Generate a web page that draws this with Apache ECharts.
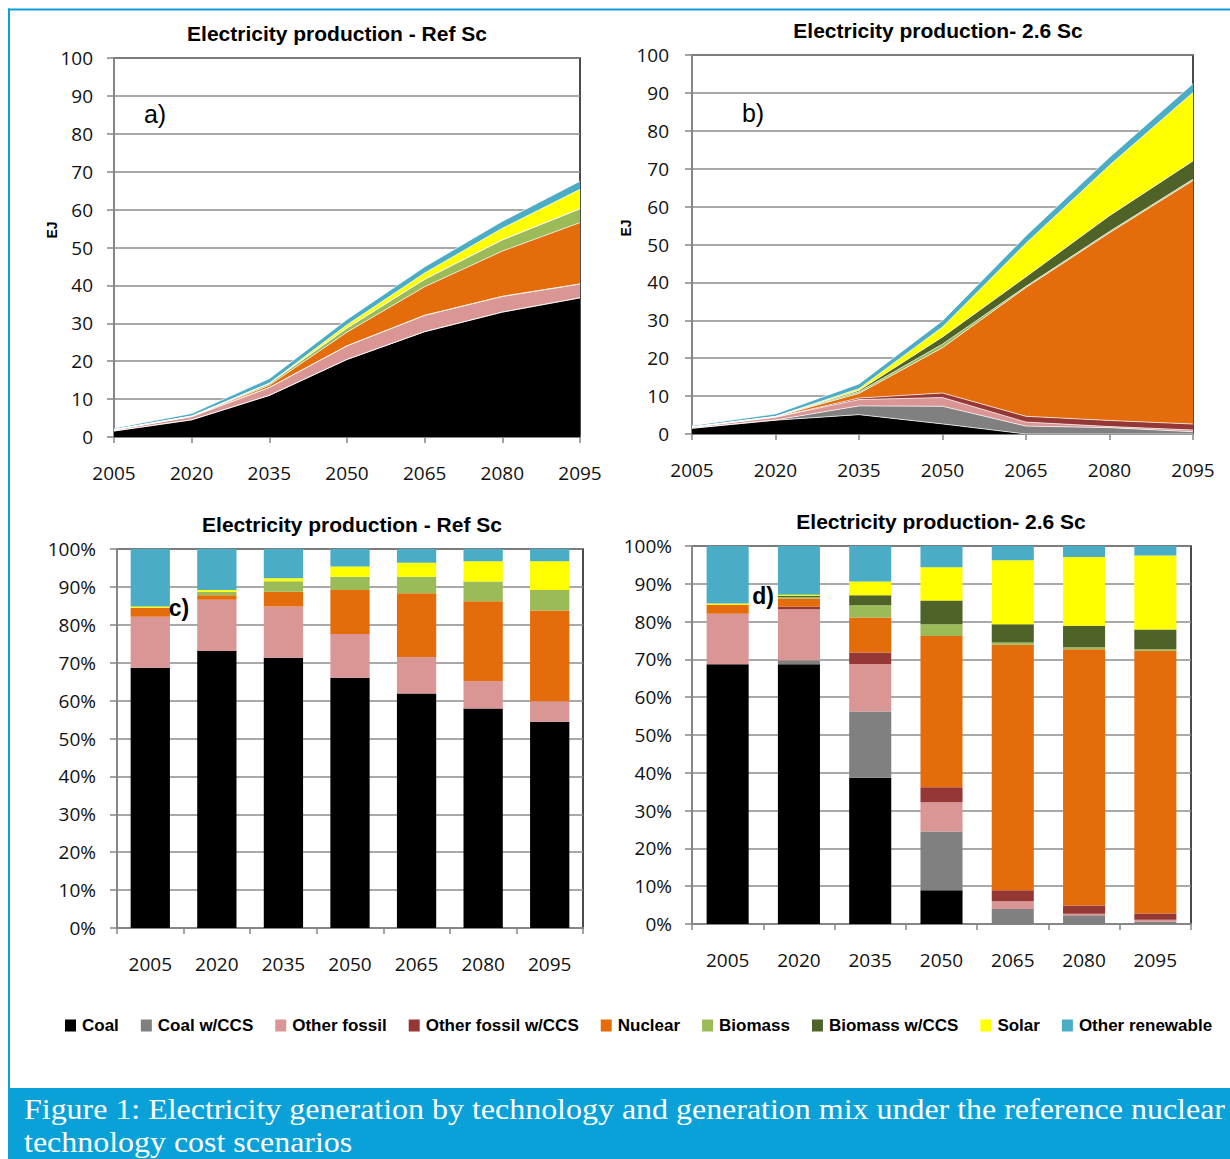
<!DOCTYPE html>
<html>
<head>
<meta charset="utf-8">
<script src="https://cdn.jsdelivr.net/npm/echarts@6/dist/echarts.min.js"></script>
<style>
  html, body { margin: 0; padding: 0; background: #fff; }
  #chart { width: 1230px; height: 1159px; }
</style>
</head>
<body>
<div id="chart"></div>
<script>
// ---- categories ----
const years = ['2005', '2020', '2035', '2050', '2065', '2080', '2095'];
const techs = ['Coal', 'Coal w/CCS', 'Other fossil', 'Other fossil w/CCS', 'Nuclear',
               'Biomass', 'Biomass w/CCS', 'Solar', 'Other renewable'];
const techColors = ['#000000', '#808080', '#D99694', '#953735', '#E46C0A',
                    '#9BBB59', '#4F6228', '#FFFF00', '#4BACC6'];

// ---- a) Reference scenario, electricity production (EJ) ----
const refCoalEJ          = [1.58, 4.53, 10.98, 20.46, 27.79, 32.95, 36.72];
const refCoalCcsEJ       = [0, 0, 0, 0, 0, 0, 0];
const refOtherFossilEJ   = [0.31, 0.84, 2.08, 3.60, 4.31, 4.15, 3.65];
const refOtherFossilCcsEJ= [0, 0, 0, 0, 0, 0, 0];
const refNuclearEJ       = [0.05, 0.07, 0.60, 3.60, 7.54, 11.95, 16.20];
const refBiomassEJ       = [0, 0.06, 0.43, 1.09, 1.98, 2.96, 3.65];
const refBiomassCcsEJ    = [0, 0, 0, 0, 0, 0, 0];
const refSolarEJ         = [0.01, 0.03, 0.12, 0.84, 1.66, 3.07, 5.13];
const refOtherRenewEJ    = [0.35, 0.67, 1.19, 1.43, 1.62, 1.82, 2.16];

// ---- b) 2.6 scenario, electricity production (EJ) ----
const s26CoalEJ          = [1.51, 3.64, 5.11, 2.66, 0, 0, 0];
const s26CoalCcsEJ       = [0, 0.06, 2.31, 4.66, 2.09, 1.68, 0.60];
const s26OtherFossilEJ   = [0.29, 0.72, 1.66, 2.30, 1.05, 0.29, 0.46];
const s26OtherFossilCcsEJ= [0, 0.03, 0.40, 1.20, 1.52, 1.61, 1.57];
const s26NuclearEJ       = [0.05, 0.12, 1.23, 11.96, 34.00, 49.49, 64.24];
const s26BiomassEJ       = [0, 0.02, 0.42, 0.93, 0.31, 0.37, 0.37];
const s26BiomassCcsEJ    = [0, 0.02, 0.36, 1.88, 2.51, 4.16, 4.80];
const s26SolarEJ         = [0.01, 0.02, 0.48, 2.63, 8.84, 13.29, 18.09];
const s26OtherRenewEJ    = [0.33, 0.68, 1.24, 1.67, 1.99, 2.12, 2.31];

// ---- c) Reference scenario, generation mix (%) ----
const refCoalPct          = [68.7, 73.1, 71.3, 66.0, 61.9, 57.9, 54.4];
const refCoalCcsPct       = [0, 0, 0, 0, 0, 0, 0];
const refOtherFossilPct   = [13.4, 13.5, 13.5, 11.6, 9.6, 7.3, 5.4];
const refOtherFossilCcsPct= [0, 0, 0, 0, 0, 0, 0];
const refNuclearPct       = [2.3, 1.2, 3.9, 11.6, 16.8, 21.0, 24.0];
const refBiomassPct       = [0, 0.9, 2.8, 3.5, 4.4, 5.2, 5.4];
const refBiomassCcsPct    = [0, 0, 0, 0, 0, 0, 0];
const refSolarPct         = [0.4, 0.5, 0.8, 2.7, 3.7, 5.4, 7.6];
const refOtherRenewPct    = [15.2, 10.8, 7.7, 4.6, 3.6, 3.2, 3.2];

// ---- d) 2.6 scenario, generation mix (%) ----
const s26CoalPct          = [68.7, 68.7, 38.7, 8.9, 0, 0, 0];
const s26CoalCcsPct       = [0, 1.1, 17.5, 15.6, 4.0, 2.3, 0.6];
const s26OtherFossilPct   = [13.4, 13.5, 12.6, 7.7, 2.0, 0.4, 0.5];
const s26OtherFossilCcsPct= [0, 0.6, 3.0, 4.0, 2.9, 2.2, 1.7];
const s26NuclearPct       = [2.3, 2.2, 9.3, 40.0, 65.0, 67.8, 69.5];
const s26BiomassPct       = [0, 0.4, 3.2, 3.1, 0.6, 0.5, 0.4];
const s26BiomassCcsPct    = [0, 0.3, 2.7, 6.3, 4.8, 5.7, 5.2];
const s26SolarPct         = [0.4, 0.3, 3.6, 8.8, 16.9, 18.2, 19.6];
const s26OtherRenewPct    = [15.2, 12.9, 9.4, 5.6, 3.8, 2.9, 2.5];

// ---- tick labels ----
const ejTicks = [0, 10, 20, 30, 40, 50, 60, 70, 80, 90, 100];
const pctTicks = ['0%', '10%', '20%', '30%', '40%', '50%', '60%', '70%', '80%', '90%', '100%'];

const refEJ  = [refCoalEJ, refCoalCcsEJ, refOtherFossilEJ, refOtherFossilCcsEJ, refNuclearEJ,
                refBiomassEJ, refBiomassCcsEJ, refSolarEJ, refOtherRenewEJ];
const s26EJ  = [s26CoalEJ, s26CoalCcsEJ, s26OtherFossilEJ, s26OtherFossilCcsEJ, s26NuclearEJ,
                s26BiomassEJ, s26BiomassCcsEJ, s26SolarEJ, s26OtherRenewEJ];
const refPct = [refCoalPct, refCoalCcsPct, refOtherFossilPct, refOtherFossilCcsPct, refNuclearPct,
                refBiomassPct, refBiomassCcsPct, refSolarPct, refOtherRenewPct];
const s26Pct = [s26CoalPct, s26CoalCcsPct, s26OtherFossilPct, s26OtherFossilCcsPct, s26NuclearPct,
                s26BiomassPct, s26BiomassCcsPct, s26SolarPct, s26OtherRenewPct];

const SANS = '"Liberation Sans", Arial, sans-serif';
const SERIF = '"Liberation Serif", "Times New Roman", serif';
const TICK_FONT = '"Open Sans", "Noto Sans", sans-serif';
const GRID_GRAY = '#8c8c8c';
const AXIS_GRAY = '#868686';

const chart = echarts.init(document.getElementById('chart'), null, { renderer: 'svg' });

// plot rectangles: [left, top, right edge, bottom edge]
const boxes = [
  [114, 58, 580, 437],   // a
  [692, 55, 1193, 434],  // b
  [117, 549, 583, 928],  // c
  [692, 546, 1191, 924]  // d
];

const grids = boxes.map(b => ({
  left: b[0], top: b[1], width: b[2] - b[0], height: b[3] - b[1],
  show: true, borderColor: '#111', borderWidth: 1.5, backgroundColor: 'transparent'
}));

function xAxisFor(gi, isBar) {
  return {
    type: 'category', gridIndex: gi, data: years, boundaryGap: isBar,
    axisLine: { lineStyle: { color: AXIS_GRAY, width: 2 } },
    axisTick: { show: true, length: 6, interval: 0, lineStyle: { color: AXIS_GRAY, width: 1.5 } },
    axisLabel: { margin: 26, fontSize: 19, color: '#111', fontFamily: TICK_FONT, interval: 0 },
    splitLine: { show: false }
  };
}
function yAxisFor(gi, isPct, margin) {
  return {
    type: 'value', gridIndex: gi, min: 0, max: 100, interval: 10,
    axisLine: { show: true, lineStyle: { color: AXIS_GRAY, width: 2 } },
    axisTick: { show: true, length: 7, lineStyle: { color: AXIS_GRAY, width: 1.5 } },
    axisLabel: {
      margin: margin, fontSize: 19, color: '#111', fontFamily: TICK_FONT,
      formatter: v => isPct ? pctTicks[Math.round(v / 10)] : String(ejTicks[Math.round(v / 10)])
    },
    splitLine: { show: true, lineStyle: { color: GRID_GRAY, width: 1.6 } }
  };
}

const series = [];
// stacked bars first so the legend swatches take the bar styling
[[refPct, 2, 'barRef'], [s26Pct, 3, 'bar26']].forEach(([set, gi, stack]) => {
  set.forEach((vals, i) => {
    series.push({
      type: 'bar', name: techs[i], stack: stack, xAxisIndex: gi, yAxisIndex: gi,
      data: vals, barWidth: '59%',
      itemStyle: { color: techColors[i] },
      emphasis: { disabled: true }, silent: true
    });
  });
});
[[refEJ, 0, 'areaRef'], [s26EJ, 1, 'area26']].forEach(([set, gi, stack]) => {
  set.forEach((vals, i) => {
    series.push({
      type: 'line', name: techs[i], stack: stack, xAxisIndex: gi, yAxisIndex: gi,
      data: vals, symbol: 'none', smooth: false,
      lineStyle: { width: 1, color: 'rgba(255,255,255,0.7)' },
      itemStyle: { color: techColors[i] },
      areaStyle: { color: techColors[i], opacity: 1 },
      emphasis: { disabled: true }, silent: true
    });
  });
});

function txt(x, y, text, size, weight, rotation) {
  return {
    type: 'text', x: x, y: y, z: 100, rotation: rotation || 0,
    style: {
      text: text, fontSize: size, fontWeight: weight, fontFamily: SANS,
      fill: '#000', align: 'center', verticalAlign: 'middle'
    }
  };
}
function captionLine(y, text) {
  return {
    type: 'text', x: 24, y: y, z: 100, scaleX: 1.065,
    style: { text: text, fontSize: 30, fontFamily: SERIF, fill: '#ffffff',
             align: 'left', verticalAlign: 'middle' }
  };
}

const graphics = [
  // page frame and caption band
  { type: 'rect', shape: { x: 9, y: 1088, width: 1221, height: 71 }, style: { fill: '#0AA1D9' }, z: 1 },
  { type: 'line', shape: { x1: 8, y1: 9.5, x2: 1230, y2: 9.5 }, style: { stroke: '#0A9FD8', lineWidth: 2 }, z: 1 },
  { type: 'line', shape: { x1: 9, y1: 8.5, x2: 9, y2: 1159 }, style: { stroke: '#0A9FD8', lineWidth: 2 }, z: 1 },
  // chart titles
  txt(337, 33, 'Electricity production - Ref Sc', 21, 'bold'),
  txt(938, 30, 'Electricity production- 2.6 Sc', 21, 'bold'),
  txt(352, 524, 'Electricity production - Ref Sc', 21, 'bold'),
  txt(941, 521, 'Electricity production- 2.6 Sc', 21, 'bold'),
  // axis unit labels
  txt(52, 230, 'EJ', 14, 'bold', Math.PI / 2),
  txt(626, 228, 'EJ', 14, 'bold', Math.PI / 2),
  // panel letters
  txt(155, 114, 'a)', 25, 'normal'),
  txt(753, 113, 'b)', 25, 'normal'),
  txt(179, 608, 'c)', 23, 'bold'),
  txt(763, 596, 'd)', 23, 'bold'),
  // caption
  captionLine(1109, 'Figure 1: Electricity generation by technology and generation mix under the reference nuclear'),
  captionLine(1142, 'technology cost scenarios')
];

chart.setOption({
  animation: false,
  backgroundColor: '#ffffff',
  color: techColors,
  grid: grids,
  xAxis: [xAxisFor(0, false), xAxisFor(1, false), xAxisFor(2, true), xAxisFor(3, true)],
  yAxis: [yAxisFor(0, false, 21), yAxisFor(1, false, 23), yAxisFor(2, true, 21), yAxisFor(3, true, 20)],
  legend: {
    data: techs, left: 60, top: 1012, icon: 'rect', itemWidth: 11, itemHeight: 12, itemGap: 22,
    selectedMode: false,
    itemStyle: { borderWidth: 0 },
    textStyle: { fontFamily: SANS, fontWeight: 'bold', fontSize: 17, color: '#000', padding: [0, 0, 0, 1] }
  },
  series: series,
  graphic: graphics
});
</script>
</body>
</html>
